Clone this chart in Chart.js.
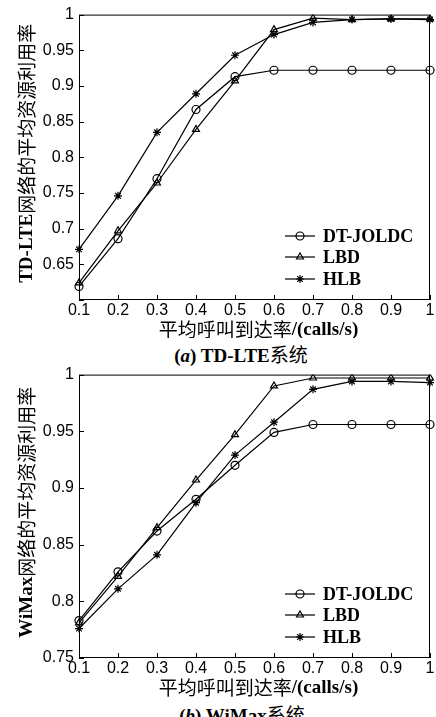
<!DOCTYPE html>
<html>
<head>
<meta charset="utf-8">
<script src="https://cdn.jsdelivr.net/npm/chart.js@4.4.1/dist/chart.umd.min.js"></script>
<style>
  html, body { margin: 0; padding: 0; background: #fff; }
  body { width: 436px; height: 717px; position: relative; overflow: hidden; }
  .box { position: absolute; left: 0; width: 436px; height: 338px; }
  .cap {
    position: absolute; left: 0; width: 436px; text-align: center; line-height: 20px;
    font: bold 19px 'Liberation Serif', serif; color: #000;
  }
  .cap .cjk { font: normal 19px 'Noto Sans CJK SC', sans-serif; }
</style>
</head>
<body>
<div class="box" style="top:0"><canvas id="lte" width="436" height="338"></canvas></div>
<div class="cap" style="top:340px; left:23px">(<i>a</i>) TD-LTE<span class="cjk">系统</span></div>
<div class="box" style="top:360px"><canvas id="wimax" width="436" height="338"></canvas></div>
<div class="cap" style="top:700px; left:24px">(<i>b</i>) WiMax<span class="cjk">系统</span></div>

<script>
// ---- data ----
const rates = ['0.1', '0.2', '0.3', '0.4', '0.5', '0.6', '0.7', '0.8', '0.9', '1'];
const seriesNames = ['DT-JOLDC', 'LBD', 'HLB'];

// (a) TD-LTE
const lteDT  = [0.619, 0.686, 0.770, 0.867, 0.913, 0.922, 0.922, 0.922, 0.922, 0.922];
const lteLBD = [0.624, 0.697, 0.764, 0.839, 0.907, 0.979, 0.995, 0.993, 0.994, 0.994];
const lteHLB = [0.671, 0.746, 0.835, 0.889, 0.943, 0.972, 0.989, 0.993, 0.994, 0.993];

// (b) WiMax
const wimaxDT  = [0.783, 0.826, 0.862, 0.890, 0.920, 0.949, 0.956, 0.956, 0.956, 0.956];
const wimaxLBD = [0.781, 0.822, 0.865, 0.907, 0.947, 0.990, 0.997, 0.997, 0.997, 0.997];
const wimaxHLB = [0.776, 0.811, 0.841, 0.887, 0.929, 0.958, 0.987, 0.994, 0.994, 0.993];

const markers = ['circle', 'triangle', 'star'];

const SANS = "'Liberation Sans', Arial, sans-serif";
const LATIN = "bold 19px 'Liberation Serif', serif";
const CJK = "19px 'Noto Sans CJK SC', sans-serif";

// mixed-font text: latin bold serif, chinese plain
function drawMixed(ctx, segs, cx, cy) {
  let total = 0;
  segs.forEach(s => { ctx.font = s[1]; total += ctx.measureText(s[0]).width; });
  let x = cx - total / 2;
  ctx.textAlign = 'left';
  ctx.textBaseline = 'middle';
  segs.forEach(s => {
    ctx.font = s[1];
    ctx.fillText(s[0], x, cy);
    x += ctx.measureText(s[0]).width;
  });
}

// frame + inward ticks + legend inside the plot + axis titles
const framePlugin = {
  id: 'frame',
  afterDraw(chart, args, opts) {
    const { ctx, chartArea: a, scales } = chart;
    ctx.save();
    ctx.strokeStyle = '#000';
    ctx.fillStyle = '#000';
    ctx.lineWidth = 1;
    ctx.strokeRect(a.left + 0.5, a.top + 0.5, a.right - a.left - 1, a.bottom - a.top - 1);
    ctx.beginPath();
    scales.x.ticks.forEach((t, i) => {
      const px = Math.round(scales.x.getPixelForTick(i)) + 0.5;
      ctx.moveTo(px, a.bottom);
      ctx.lineTo(px, a.bottom - 5);
    });
    scales.y.ticks.forEach((t, i) => {
      const py = Math.round(scales.y.getPixelForTick(i)) + 0.5;
      ctx.moveTo(a.left, py);
      ctx.lineTo(a.left + 5, py);
    });
    ctx.stroke();

    // legend
    const rows = [64, 43, 21];
    chart.data.datasets.forEach((ds, i) => {
      const y = a.bottom - rows[i];
      const x0 = a.right - 145;
      ctx.lineWidth = 1.2;
      ctx.beginPath();
      ctx.moveTo(x0, y);
      ctx.lineTo(x0 + 30, y);
      ctx.stroke();
      ctx.fillStyle = 'rgba(0,0,0,0)';
      Chart.helpers.drawPoint(ctx, {
        pointStyle: ds.pointStyle, radius: 4, rotation: 0, borderWidth: 1.2
      }, x0 + 15, y);
      ctx.fillStyle = '#000';
      ctx.font = 'bold 18px ' + "'Liberation Serif', serif";
      ctx.textBaseline = 'middle';
      ctx.textAlign = 'left';
      ctx.fillText(ds.label, x0 + 38, y + 1);
    });

    // x title
    drawMixed(ctx, [['平均呼叫到达率', CJK], ['/(calls/s)', LATIN]],
      (a.left + a.right) / 2 + 4, a.bottom + 30);

    // y title (rotated)
    ctx.translate(27, (a.top + a.bottom) / 2 - 4);
    ctx.rotate(-Math.PI / 2);
    drawMixed(ctx, [[opts.yLatin, LATIN], ['网络的平均资源利用率', CJK]], 0, 0);
    ctx.restore();
  }
};

function makeChart(id, values, yMin, yLatin, hideMin, xHeight) {
  const datasets = values.map((data, i) => ({
    label: seriesNames[i],
    data,
    borderColor: '#000',
    borderWidth: 1.2,
    backgroundColor: 'rgba(0,0,0,0)',
    pointStyle: markers[i],
    pointRadius: 4,
    pointBorderWidth: 1.2,
    pointBorderColor: '#000',
    pointBackgroundColor: 'rgba(0,0,0,0)',
    tension: 0
  }));

  return new Chart(document.getElementById(id), {
    type: 'line',
    data: { labels: rates, datasets },
    plugins: [framePlugin],
    options: {
      responsive: false,
      animation: false,
      devicePixelRatio: 1,
      layout: { padding: { top: 14, right: 6, left: 0, bottom: 0 } },
      plugins: {
        legend: { display: false },
        tooltip: { enabled: false },
        frame: { yLatin }
      },
      scales: {
        x: {
          offset: false,
          grid: { display: false, drawTicks: false, tickLength: 0 },
          border: { display: false },
          ticks: { color: '#000', font: { family: SANS, size: 16 }, padding: 1, maxRotation: 0, autoSkip: false },
          afterFit(s) { s.height = xHeight; }
        },
        y: {
          min: yMin, max: 1,
          grid: { display: false, drawTicks: false, tickLength: 0 },
          border: { display: false },
          ticks: {
            stepSize: 0.05, color: '#000', font: { family: SANS, size: 16 }, padding: 5,
            callback: v => (hideMin && Math.abs(v - yMin) < 1e-6) ? '' : String(+v.toFixed(2))
          },
          afterFit(s) { s.width = 79; }
        }
      }
    }
  });
}

makeChart('lte', [lteDT, lteLBD, lteHLB], 0.6, 'TD-LTE', true, 38);
makeChart('wimax', [wimaxDT, wimaxLBD, wimaxHLB], 0.75, 'WiMax', false, 40);
</script>
</body>
</html>
